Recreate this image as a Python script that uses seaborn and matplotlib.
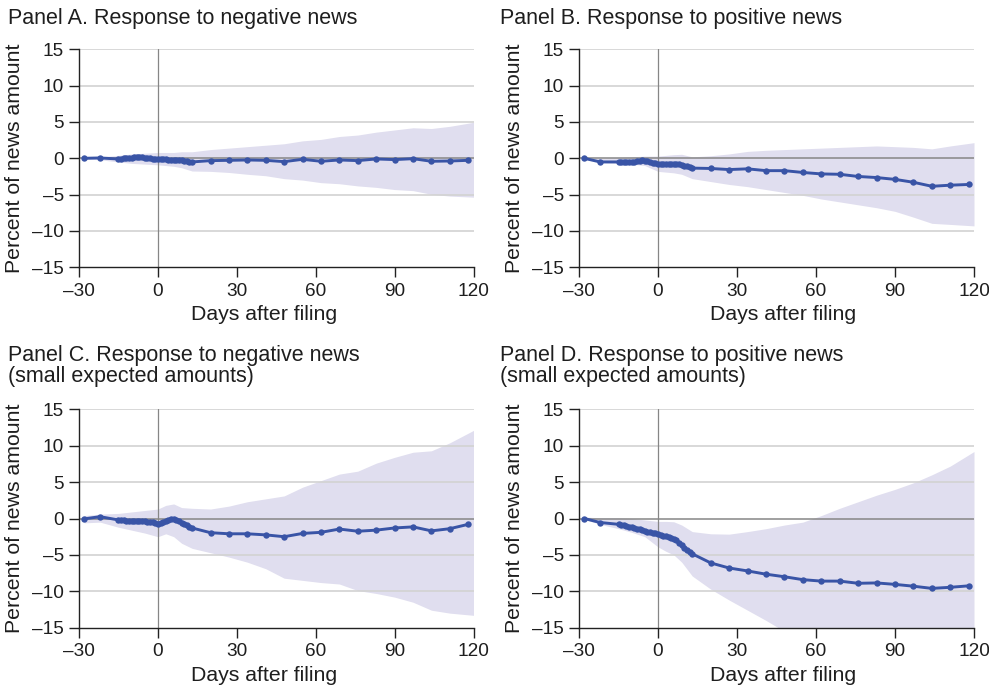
import numpy as np
import pandas as pd
import matplotlib
matplotlib.use("Agg")
import matplotlib.pyplot as plt
import seaborn as sns
from matplotlib.ticker import FuncFormatter

# =========================
# dados
# =========================
DIAS = [-28, -22,
        -15, -14, -13, -12, -11, -10, -9, -8, -7, -6, -5, -4, -3, -2, -1,
        0, 1, 2, 3, 4, 5, 6, 7, 8, 9, 10, 11, 12, 13,
        20, 27, 34, 41, 48, 55, 62, 69, 76, 83, 90, 97, 104, 111, 118]

DIAS_BANDA = [-28, -22, -15, -10, -5, 0, 3, 6, 9, 13, 20, 27, 34, 41, 48,
              55, 62, 69, 76, 83, 90, 97, 104, 111, 120]

# Painel A
linha_a = [0.0, 0.05,
           -0.1, -0.05, 0.0, 0.05, 0.1, 0.1, 0.15, 0.2, 0.2, 0.15, 0.1, 0.05, 0.0, -0.05, -0.1,
           -0.05, -0.1, -0.1, -0.15, -0.2, -0.2, -0.2, -0.25, -0.25, -0.3, -0.35, -0.4, -0.45, -0.5,
           -0.32, -0.28, -0.23, -0.28, -0.46, -0.14, -0.41, -0.23, -0.32, -0.09, -0.18, -0.05,
           -0.41, -0.37, -0.28]
sup_a = [0.1, 0.2, 0.4, 0.6, 0.7, 0.8, 0.8, 0.8, 0.9, 0.9, 1.2, 1.4, 1.6, 1.8, 2.0,
         2.4, 2.6, 3.0, 3.2, 3.6, 3.9, 4.2, 4.1, 4.4, 4.95]
inf_a = [-0.1, -0.2, -0.5, -0.7, -0.8, -0.9, -1.0, -1.1, -1.3, -1.75, -1.8, -1.95, -2.2, -2.4, -2.8,
         -3.0, -3.35, -3.5, -3.8, -4.0, -4.3, -4.45, -4.95, -5.2, -5.35]

# Painel B
linha_b = [0.0, -0.5,
           -0.5, -0.5, -0.5, -0.5, -0.5, -0.5, -0.45, -0.4, -0.35, -0.3, -0.35, -0.4, -0.5, -0.6, -0.7,
           -0.8, -0.85, -0.85, -0.85, -0.8, -0.75, -0.75, -0.8, -0.8, -0.9, -1.0, -1.1, -1.25, -1.35,
           -1.4, -1.55, -1.45, -1.7, -1.7, -1.95, -2.15, -2.2, -2.5, -2.65, -2.9, -3.3,
           -3.85, -3.7, -3.6]
sup_b = [0.0, 0.0, 0.1, 0.2, 0.3, 0.3, 0.4, 0.5, 0.55, 0.2, 0.35, 0.6, 0.95, 1.1, 1.2,
         1.3, 1.4, 1.5, 1.6, 1.7, 1.6, 1.5, 1.3, 1.7, 2.15]
inf_b = [0.0, -0.6, -0.7, -0.8, -1.0, -1.8, -1.9, -2.0, -2.2, -2.8, -3.2, -3.6, -3.9, -4.3, -4.7,
         -5.1, -5.6, -6.0, -6.4, -6.8, -7.3, -8.1, -8.95, -9.1, -9.3]

# Painel C
linha_c = [-0.05, 0.25,
           -0.2, -0.25, -0.25, -0.3, -0.35, -0.35, -0.4, -0.4, -0.4, -0.4, -0.4, -0.45, -0.45, -0.5, -0.6,
           -0.7, -0.55, -0.45, -0.35, -0.2, 0.0, 0.0, -0.15, -0.4, -0.6, -0.8, -0.95, -1.1, -1.3,
           -1.95, -2.1, -2.1, -2.25, -2.5, -2.05, -1.9, -1.45, -1.75, -1.6, -1.3, -1.15,
           -1.7, -1.4, -0.8]
sup_c = [0.4, 0.6, 0.7, 0.9, 1.1, 1.3, 1.8, 2.0, 1.5, 1.4, 1.3, 1.7, 2.3, 2.7, 3.1,
         4.3, 5.2, 6.1, 6.5, 7.6, 8.4, 9.1, 9.3, 10.4, 12.1]
inf_c = [-0.6, -0.5, -1.2, -1.6, -2.0, -2.5, -2.1, -2.5, -3.4, -4.1, -4.7, -5.3, -6.0, -6.9, -8.2,
         -8.5, -8.8, -9.0, -9.9, -10.3, -10.8, -11.5, -12.6, -13.0, -13.3]

# Painel D
linha_d = [0.0, -0.55,
           -0.8, -0.9, -0.95, -1.0, -1.1, -1.2, -1.3, -1.4, -1.5, -1.6, -1.7, -1.8, -1.9, -1.95, -2.05,
           -2.15, -2.25, -2.35, -2.45, -2.55, -2.65, -2.8, -3.0, -3.3, -3.7, -4.0, -4.3, -4.6, -4.85,
           -6.1, -6.8, -7.2, -7.65, -8.0, -8.4, -8.6, -8.6, -8.9, -8.85, -9.05, -9.3,
           -9.6, -9.45, -9.25]
sup_d = [0.2, 0.1, 0.1, 0.0, -0.2, -0.4, -0.4, -0.45, -0.9, -1.8, -2.1, -2.15, -1.8, -1.4, -0.9,
         -0.5, 0.4, 1.4, 2.3, 3.2, 4.0, 4.9, 6.0, 7.2, 9.2]
inf_d = [-0.1, -0.8, -1.4, -1.9, -2.5, -3.9, -4.5, -5.0, -6.0, -7.9, -9.7, -11.2, -12.6, -14.0, -15.5,
         -17.0, -18.0, -19.0, -20.0, -20.0, -20.0, -20.0, -20.0, -20.0, -20.0]

TITULOS = [
    ["Panel A. Response to negative news"],
    ["Panel B. Response to positive news"],
    ["Panel C. Response to negative news", "(small expected amounts)"],
    ["Panel D. Response to positive news", "(small expected amounts)"],
]
XTICKS = [-30, 0, 30, 60, 90, 120]
YTICKS = [-15, -10, -5, 0, 5, 10, 15]

PAINEIS = [(linha_a, sup_a, inf_a), (linha_b, sup_b, inf_b),
           (linha_c, sup_c, inf_c), (linha_d, sup_d, inf_d)]

# =========================
# estilo
# =========================
sns.set_theme(style="white")
plt.rcParams['font.family'] = ['Liberation Sans', 'DejaVu Sans']

AZUL = "#3954a6"
BANDA = "#e0deef"
GRADE = "#d2d2d2"
CINZA = "#868686"
TEXTO = "#1e1e1e"

W, H = 989, 688
fig = plt.figure(figsize=(W / 100, H / 100), dpi=100)

# posições em pixels: (esquerda, direita, topo, base)
CAIXAS = [(79, 473.5, 49.3, 267.3), (579, 974, 49.3, 267.3),
          (79, 473.5, 409.3, 627.7), (579, 974, 409.3, 627.7)]
TITULO_X = [8, 500, 8, 500]
TITULO_Y = [24, 24, 361, 361]
XLABEL_X = [0.469, 0.516, 0.469, 0.516]

fmt = FuncFormatter(lambda v, p: f"{int(v)}".replace('-', '\u2013'))

for i, ((linha, sup, inf), caixa) in enumerate(zip(PAINEIS, CAIXAS)):
    esq, dir_, topo, base = caixa
    ax = fig.add_axes([esq / W, 1 - base / H, (dir_ - esq) / W, (base - topo) / H])

    ax.fill_between(DIAS_BANDA, inf, sup, color=BANDA, lw=0, zorder=1)
    for y in YTICKS:
        if y == 0:
            ax.axhline(0, color=CINZA, lw=1.1, zorder=2)
        elif y != -15:
            ax.axhline(y, color=GRADE, lw=1.2, zorder=2)
    ax.axvline(0, color=CINZA, lw=0.9, zorder=2)

    df = pd.DataFrame({'dia': DIAS, 'valor': linha})
    sns.lineplot(data=df, x='dia', y='valor', ax=ax, color=AZUL, lw=2.1,
                 marker='o', markersize=4.6, markeredgewidth=0, zorder=3)

    ax.set_xlim(-30, 120)
    ax.set_ylim(-15, 15)
    ax.set_xticks(XTICKS)
    ax.set_yticks(YTICKS)
    ax.xaxis.set_major_formatter(fmt)
    ax.yaxis.set_major_formatter(fmt)
    ax.tick_params(axis='both', which='both', direction='out', length=7, width=1,
                   color='#222222', labelsize=13.7, labelcolor=TEXTO, pad=4,
                   bottom=True, left=True)
    for lado in ['top', 'right']:
        ax.spines[lado].set_visible(False)
    for lado in ['left', 'bottom']:
        ax.spines[lado].set_color('#222222')
        ax.spines[lado].set_linewidth(1.0)

    ax.set_xlabel("Days after filing", fontsize=15.3, color=TEXTO)
    ax.set_ylabel("Percent of news amount", fontsize=15.3, color=TEXTO)
    ax.xaxis.set_label_coords(XLABEL_X[i], -0.175)
    ax.yaxis.set_label_coords(-0.14, 0.5)

    for j, txt in enumerate(TITULOS[i]):
        fig.text(TITULO_X[i] / W, 1 - (TITULO_Y[i] + 21 * j) / H, txt,
                 fontsize=15.5, color=TEXTO, ha='left', va='baseline')

fig.savefig("out.png", dpi=100)
